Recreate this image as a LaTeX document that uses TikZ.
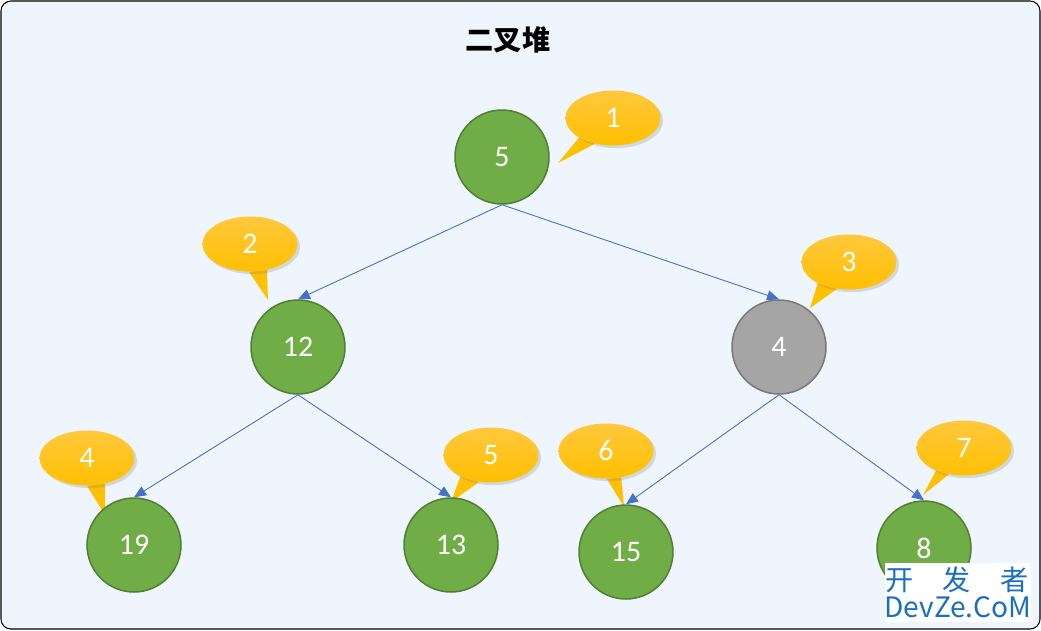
\documentclass[tikz,border=0pt]{standalone}
\usepackage{fontspec}
\setmainfont{Carlito}
\newfontfamily\cjk{Noto Sans CJK SC}
\usepackage{tikz}
\usetikzlibrary{arrows.meta}
\usetikzlibrary{shapes.geometric}
\usetikzlibrary{shadows}
\usetikzlibrary{backgrounds}

\definecolor{heapgreen}{HTML}{70AD47}
\definecolor{heapgreenline}{HTML}{507E32}
\definecolor{heapgray}{HTML}{A5A5A5}
\definecolor{heapgrayline}{HTML}{787878}
\definecolor{bubbletop}{HTML}{FFC83D}
\definecolor{bubblebot}{HTML}{FFC000}
\definecolor{edgeblue}{HTML}{4472C4}
\definecolor{paneblue}{HTML}{EEF5FC}
\definecolor{markblue}{HTML}{1A6FBF}

\tikzset{
  heapnode/.style={shape=circle, draw=heapgreenline, fill=heapgreen, line width=0.85pt,
    minimum size=1.88cm, inner sep=0pt, text=white, font=\fontsize{17}{19}\selectfont},
  graynode/.style={heapnode, draw=heapgrayline, fill=heapgray},
  bubble/.style={shape=ellipse, top color=bubbletop, bottom color=bubblebot, draw=none,
    minimum width=1.9cm, minimum height=1.1cm, inner sep=0pt, text=white,
    font=\fontsize{17}{19}\selectfont,
    drop shadow={opacity=0.25, shadow xshift=1.5pt, shadow yshift=-1.5pt}},
  tail/.style={fill=bubblebot},
  heapedge/.style={draw=edgeblue, line width=0.5pt, -{Triangle[length=2.4mm, width=2mm]}}
}

\begin{document}
\begin{tikzpicture}[x=0.02cm, y=-0.02cm]
    \useasboundingbox (0,0) rectangle (1041,630);

    % title
    \node[font=\cjk\bfseries\fontsize{16}{18}\selectfont] (title) at (508,40) {二叉堆};

    % heap nodes
    \node[heapnode] (n5) at (502,157) {5};
    \node[heapnode] (n12) at (298,347) {12};
    \node[graynode] (n4) at (779,347) {4};
    \node[heapnode] (n19) at (134,545) {19};
    \node[heapnode] (n13) at (451,545) {13};
    \node[heapnode] (n15) at (626,552) {15};
    \node[heapnode] (n8) at (924,548) {8};

    \draw[heapedge] (n5.south) -- (n12.north);
    \draw[heapedge] (n5.south) -- (n4.north);
    \draw[heapedge] (n12.south) -- (n19.north);
    \draw[heapedge] (n12.south) -- (n13.north);
    \draw[heapedge] (n4.south) -- (n15.north);
    \draw[heapedge] (n4.south) -- (n8.north);

    % index bubbles
    \node[bubble] (b1) at (613,118) {1};
    \node[bubble] (b2) at (250,244) {2};
    \node[bubble] (b3) at (849,262) {3};
    \node[bubble] (b4) at (87,458) {4};
    \node[bubble] (b5) at (491,455) {5};
    \node[bubble] (b6) at (606,451) {6};
    \node[bubble] (b7) at (964,448) {7};

    \coordinate (t1) at (558,163);
    \coordinate (t2) at (268,300);
    \coordinate (t3) at (810,308);
    \coordinate (t4) at (105,515);
    \coordinate (t5) at (451,502);
    \coordinate (t6) at (624,507);
    \coordinate (t7) at (923,495);

    \begin{scope}[on background layer]
        \draw[fill=paneblue, draw=black, line width=0.6pt, rounded corners=0.2cm] (1,1) rectangle (1040,629);
        \fill[tail] (b1.210) -- (t1) -- (b1.235) -- cycle;
        \fill[tail] (b2.268) -- (t2) -- (b2.303) -- cycle;
        \fill[tail] (b3.214) -- (t3) -- (b3.246) -- cycle;
        \fill[tail] (b4.270) -- (t4) -- (b4.305) -- cycle;
        \fill[tail] (b5.215) -- (t5) -- (b5.246) -- cycle;
        \fill[tail] (b6.272) -- (t6) -- (b6.300) -- cycle;
        \fill[tail] (b7.219) -- (t7) -- (b7.240) -- cycle;
    \end{scope}

    % watermark
    \node[fill=white, minimum width=2.94cm, minimum height=1.18cm, inner sep=0pt] (mark) at (958,592) {};
    \node[text=markblue, font=\cjk\fontsize{16}{18}\selectfont] (markcn) at (957,580) {开\hspace{0.58cm}发\hspace{0.58cm}者};
    \node[text=markblue, font=\cjk\fontsize{16}{18}\selectfont] (markla) at (958,607) {DevZe.CoM};
\end{tikzpicture}
\end{document}
